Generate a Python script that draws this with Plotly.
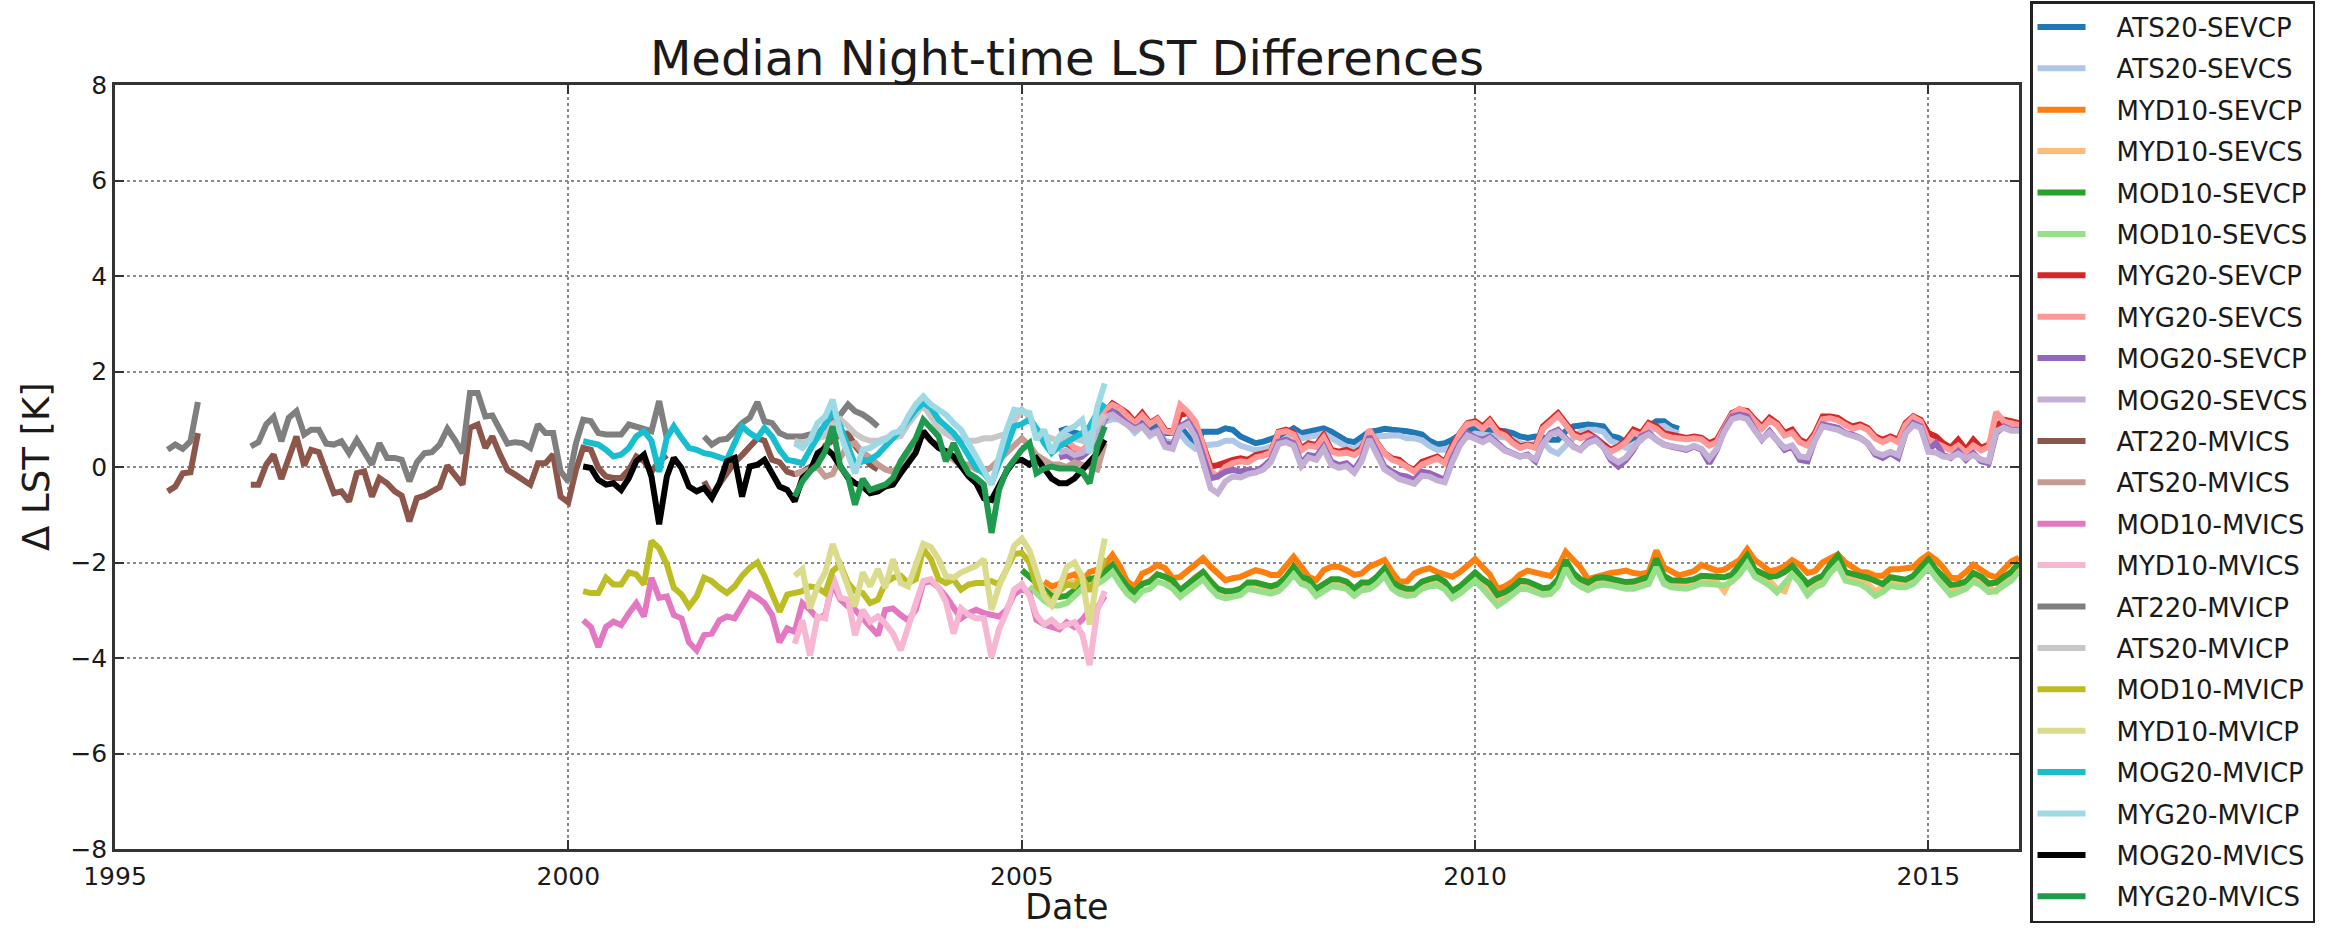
import pandas as pd
import plotly.graph_objects as go

# ---------------------------------------------------------------
# Monthly median night-time LST differences (K), one list per pair.
# Each list starts at the month given in its *_start companion;
# None marks months without data.
# ---------------------------------------------------------------

ats20_sevcp_start = "2005-06"
ats20_sevcp = [
    0.75, 0.80, 0.72, 0.68, 0.60, 0.85, 1.10,
    1.16, 1.13, 1.02, 0.85, 0.99, 0.78, 0.88, 0.71, 0.71, 0.85, 0.64, 0.50,
    0.74, 0.74, 0.74, 0.81, 0.78, 0.64, 0.57, 0.50, 0.53, 0.57, 0.64, 0.71,
    0.81, 0.71, 0.74, 0.78, 0.81, 0.74, 0.64, 0.55, 0.52, 0.62, 0.74, 0.76,
    0.80, 0.78, 0.78, 0.75, 0.72, 0.68, 0.55, 0.47, 0.50, 0.57, 0.68, 0.74,
    0.82, 0.78, 0.78, 0.78, 0.75, 0.71, 0.64, 0.61, 0.64, 0.62, 0.57, 0.57,
    0.75, 0.85, 0.87, 0.89, 0.87, 0.85, 0.65, 0.61, 0.52, 0.60, 0.70, 0.85,
    0.96, 0.96, 0.85, 0.80,
]

ats20_sevcs_start = "2005-06"
ats20_sevcs = [
    0.60, 0.65, 0.60, 0.55, 0.50, 0.70, 0.95,
    1.00, 1.00, 0.90, 0.72, 0.85, 0.65, 0.75, 0.55, 0.50, 0.70, 0.50, 0.38,
    0.45, 0.45, 0.48, 0.55, 0.55, 0.45, 0.40, 0.35, 0.38, 0.42, 0.50, 0.60,
    0.70, 0.60, 0.62, 0.66, 0.70, 0.60, 0.50, 0.42, 0.38, 0.48, 0.60, 0.64,
    0.66, 0.66, 0.66, 0.60, 0.60, 0.56, 0.44, 0.36, 0.36, 0.44, 0.58, 0.62,
    0.70, 0.68, 0.66, 0.66, 0.62, 0.58, 0.50, 0.46, 0.50, 0.52, 0.35, 0.28,
    0.45, 0.62, 0.74, 0.78, 0.78, 0.74, 0.55, 0.48, 0.40, 0.45, 0.56, 0.72,
    0.84, 0.86, 0.76, 0.70,
]

myd10_sevcp_start = "2005-04"
myd10_sevcp = [
    -2.40, -2.50, -2.45, -2.30, -2.25, -2.40, -2.20, -2.15, -2.05,
    -1.84, -2.09, -2.40, -2.51, -2.23, -2.16, -2.05, -2.12, -2.33, -2.30, -2.16, -2.02,
    -1.91, -2.09, -2.23, -2.37, -2.33, -2.30, -2.23, -2.16, -2.20, -2.26, -2.26, -2.09,
    -1.88, -2.09, -2.30, -2.37, -2.16, -2.09, -2.09, -2.16, -2.26, -2.23, -2.09, -2.02,
    -1.95, -2.20, -2.40, -2.40, -2.23, -2.16, -2.12, -2.20, -2.26, -2.30, -2.20, -2.05,
    -1.93, -2.10, -2.25, -2.55, -2.50, -2.40, -2.25, -2.17, -2.22, -2.25, -2.28, -2.10,
    -1.78, -1.95, -2.10, -2.35, -2.30, -2.24, -2.22, -2.20, -2.17, -2.22, -2.24, -2.21,
    -1.75, -2.10, -2.20, -2.27, -2.23, -2.18, -2.05, -2.10, -2.17, -2.15, -2.05, -1.95,
    -1.72, -1.95, -2.05, -2.18, -2.15, -2.08, -1.95, -2.05, -2.22, -2.18, -2.00, -1.90,
    -1.83, -2.00, -2.10, -2.20, -2.21, -2.28, -2.28, -2.14, -2.14, -2.12, -2.10, -1.95,
    -1.83, -1.95, -2.10, -2.32, -2.33, -2.20, -2.05, -2.15, -2.26, -2.31, -2.15, -1.98,
    -1.90,
]

myd10_sevcs_start = "2005-04"
myd10_sevcs = [
    -2.55, -2.65, -2.60, -2.45, -2.40, -2.50, -2.35, -2.30, -2.20,
    -2.05, -2.30, -2.55, -2.68, -2.45, -2.38, -2.25, -2.30, -2.45, -2.60, -2.45, -2.30,
    -2.20, -2.40, -2.55, -2.62, -2.60, -2.55, -2.45, -2.45, -2.50, -2.55, -2.50, -2.35,
    -2.12, -2.32, -2.42, -2.60, -2.48, -2.40, -2.42, -2.45, -2.60, -2.48, -2.45, -2.35,
    -2.15, -2.42, -2.55, -2.60, -2.58, -2.45, -2.40, -2.38, -2.45, -2.65, -2.55, -2.40,
    -2.25, -2.40, -2.55, -2.75, -2.68, -2.58, -2.45, -2.45, -2.52, -2.58, -2.56, -2.40,
    -2.00, -2.28, -2.40, -2.48, -2.40, -2.36, -2.40, -2.42, -2.45, -2.45, -2.42, -2.36,
    -1.98, -2.35, -2.42, -2.45, -2.45, -2.40, -2.35, -2.36, -2.40, -2.60, -2.32, -2.15,
    -1.92, -2.22, -2.30, -2.38, -2.55, -2.60, -2.20, -2.32, -2.55, -2.42, -2.35, -2.12,
    -1.95, -2.28, -2.32, -2.36, -2.45, -2.60, -2.52, -2.38, -2.42, -2.44, -2.36, -2.18,
    -2.00, -2.22, -2.38, -2.58, -2.55, -2.50, -2.30, -2.38, -2.52, -2.60, -2.38, -2.28,
    -2.08,
]

mod10_sevcp_start = "2005-01"
mod10_sevcp = [
    -2.16, -2.30, -2.45, -2.60, -2.70, -2.72, -2.70, -2.58, -2.40, -2.35, -2.32, -2.20,
    -2.05, -2.30, -2.50, -2.62, -2.45, -2.40, -2.25, -2.30, -2.38, -2.58, -2.45, -2.30,
    -2.20, -2.40, -2.55, -2.60, -2.60, -2.55, -2.42, -2.42, -2.45, -2.50, -2.45, -2.30,
    -2.09, -2.30, -2.35, -2.55, -2.45, -2.35, -2.35, -2.40, -2.55, -2.42, -2.42, -2.30,
    -2.12, -2.40, -2.50, -2.55, -2.55, -2.40, -2.35, -2.31, -2.40, -2.60, -2.50, -2.35,
    -2.21, -2.35, -2.45, -2.68, -2.62, -2.52, -2.38, -2.40, -2.47, -2.54, -2.52, -2.35,
    -1.95, -2.22, -2.35, -2.42, -2.33, -2.31, -2.34, -2.37, -2.41, -2.40, -2.36, -2.30,
    -1.92, -2.28, -2.37, -2.38, -2.38, -2.35, -2.28, -2.29, -2.31, -2.31, -2.25, -2.07,
    -1.85, -2.15, -2.22, -2.30, -2.28, -2.20, -2.07, -2.25, -2.45, -2.35, -2.28, -2.05,
    -1.86, -2.20, -2.25, -2.28, -2.32, -2.38, -2.45, -2.31, -2.35, -2.36, -2.28, -2.10,
    -1.93, -2.15, -2.30, -2.47, -2.45, -2.40, -2.22, -2.30, -2.44, -2.42, -2.30, -2.20,
    -2.00,
]

mod10_sevcs_start = "2005-02"
mod10_sevcs = [
    -2.50, -2.65, -2.80, -2.90, -2.90, -2.85, -2.72, -2.55, -2.50, -2.45, -2.35,
    -2.20, -2.45, -2.65, -2.78, -2.60, -2.55, -2.40, -2.45, -2.55, -2.72, -2.60, -2.45,
    -2.35, -2.55, -2.70, -2.75, -2.72, -2.68, -2.55, -2.58, -2.60, -2.65, -2.60, -2.45,
    -2.25, -2.45, -2.50, -2.70, -2.60, -2.50, -2.52, -2.55, -2.70, -2.58, -2.56, -2.45,
    -2.28, -2.55, -2.65, -2.70, -2.68, -2.55, -2.50, -2.48, -2.56, -2.75, -2.65, -2.50,
    -2.38, -2.55, -2.70, -2.90, -2.80, -2.68, -2.55, -2.56, -2.62, -2.68, -2.66, -2.50,
    -2.12, -2.40, -2.50, -2.58, -2.50, -2.46, -2.48, -2.52, -2.55, -2.55, -2.50, -2.45,
    -2.10, -2.45, -2.52, -2.55, -2.55, -2.50, -2.44, -2.45, -2.48, -2.48, -2.40, -2.25,
    -2.02, -2.30, -2.38, -2.48, -2.62, -2.45, -2.25, -2.42, -2.68, -2.52, -2.45, -2.22,
    -2.05, -2.38, -2.42, -2.45, -2.55, -2.70, -2.62, -2.48, -2.52, -2.52, -2.45, -2.28,
    -2.10, -2.32, -2.48, -2.68, -2.62, -2.55, -2.40, -2.48, -2.62, -2.60, -2.48, -2.38,
    -2.18,
]

myg20_sevcp_start = "2005-06"
myg20_sevcp = [
    0.45, 0.50, 0.35, 0.30, 0.45, 0.75, 1.15,
    1.33, 1.23, 1.13, 0.95, 1.13, 0.92, 1.02, 0.78, 0.74, 1.09, 1.13, 0.92,
    0.50, 0.01, 0.04, 0.11, 0.15, 0.18, 0.15, 0.25, 0.29, 0.32, 0.74, 0.78,
    0.71, 0.39, 0.50, 0.46, 0.67, 0.36, 0.32, 0.36, 0.29, 0.39, 0.74, 0.50,
    0.29, 0.18, 0.15, 0.01, -0.06, 0.11, 0.15, 0.22, 0.10, 0.45, 0.71, 0.92,
    0.96, 0.85, 0.99, 0.78, 0.71, 0.54, 0.43, 0.47, 0.43, 0.85, 0.99, 1.13,
    0.92, 0.71, 0.64, 0.71, 0.61, 0.47, 0.36, 0.43, 0.57, 0.78, 0.71, 0.92,
    0.85, 0.71, 0.68, 0.64, 0.61, 0.64, 0.61, 0.50, 0.57, 0.85, 1.13, 1.20,
    1.17, 0.99, 0.85, 1.03, 0.92, 0.71, 0.78, 0.57, 0.50, 0.71, 1.06, 1.06,
    1.03, 0.92, 0.85, 0.89, 0.82, 0.64, 0.57, 0.64, 0.57, 0.92, 1.06, 0.99,
    0.71, 0.64, 0.50, 0.40, 0.57, 0.36, 0.57, 0.40, 0.47, 0.85, 0.99, 0.96,
    0.92,
]

myg20_sevcs_start = "2005-06"
myg20_sevcs = [
    0.50, 0.55, 0.40, 0.35, 0.50, 0.80, 1.20,
    1.30, 1.22, 1.08, 0.92, 1.08, 0.90, 1.00, 0.75, 0.72, 1.30, 1.15, 0.95,
    0.45, -0.10, -0.20, 0.00, 0.08, 0.12, 0.10, 0.20, 0.24, 0.30, 0.72, 0.75,
    0.68, 0.35, 0.45, 0.42, 0.62, 0.32, 0.28, 0.30, 0.25, 0.35, 0.78, 0.50,
    0.28, 0.15, 0.10, -0.02, -0.10, 0.05, 0.10, 0.18, 0.08, 0.42, 0.70, 0.90,
    0.92, 0.80, 0.95, 0.72, 0.66, 0.50, 0.40, 0.45, 0.40, 0.80, 0.95, 1.08,
    0.88, 0.66, 0.60, 0.66, 0.58, 0.42, 0.32, 0.40, 0.52, 0.72, 0.66, 0.88,
    0.80, 0.66, 0.62, 0.60, 0.58, 0.60, 0.58, 0.45, 0.52, 0.82, 1.10, 1.22,
    1.14, 0.95, 0.80, 0.98, 0.88, 0.66, 0.72, 0.52, 0.45, 0.66, 1.00, 1.02,
    0.98, 0.88, 0.80, 0.85, 0.78, 0.60, 0.52, 0.60, 0.52, 0.88, 1.04, 0.95,
    0.55, 0.50, 0.42, 0.35, 0.45, 0.30, 0.45, 0.35, 0.42, 1.15, 0.95, 0.90,
    0.88,
]

mog20_sevcp_start = "2005-06"
mog20_sevcp = [
    0.20, 0.25, 0.15, 0.22, 0.35, 0.65, 1.00,
    1.16, 1.02, 0.92, 0.81, 0.88, 0.71, 0.78, 0.50, 0.46, 0.85, 0.95, 0.71,
    0.22, -0.24, -0.20, -0.10, -0.06, -0.10, -0.06, -0.10, 0.01, 0.15, 0.53, 0.57,
    0.50, 0.08, 0.25, 0.22, 0.43, 0.11, 0.04, 0.08, -0.06, 0.18, 0.64, 0.36,
    0.01, -0.10, -0.17, -0.20, -0.27, -0.10, -0.13, -0.20, -0.27, 0.18, 0.50, 0.71,
    0.61, 0.57, 0.64, 0.50, 0.36, 0.29, 0.22, 0.26, 0.12, 0.50, 0.71, 0.78,
    0.61, 0.43, 0.36, 0.54, 0.61, 0.43, 0.15, 0.01, 0.15, 0.36, 0.64, 0.71,
    0.57, 0.47, 0.43, 0.40, 0.36, 0.43, 0.36, 0.08, 0.36, 0.78, 1.06, 1.10,
    1.06, 0.78, 0.57, 0.75, 0.57, 0.36, 0.43, 0.15, 0.12, 0.57, 0.89, 0.85,
    0.82, 0.71, 0.68, 0.61, 0.50, 0.26, 0.19, 0.29, 0.19, 0.71, 0.92, 0.85,
    0.36, 0.50, 0.26, 0.19, 0.33, 0.15, 0.29, 0.12, 0.08, 0.71, 0.85, 0.78,
    0.78,
]

mog20_sevcs_start = "2005-06"
mog20_sevcs = [
    0.30, 0.35, 0.25, 0.30, 0.42, 0.70, 1.05,
    1.10, 0.98, 0.88, 0.78, 0.85, 0.68, 0.75, 0.42, 0.38, 0.82, 0.90, 0.62,
    0.10, -0.45, -0.55, -0.30, -0.20, -0.22, -0.15, -0.12, -0.05, 0.10, 0.48, 0.52,
    0.45, 0.02, 0.20, 0.15, 0.38, 0.05, -0.02, 0.02, -0.12, 0.12, 0.58, 0.30,
    -0.05, -0.15, -0.25, -0.30, -0.35, -0.18, -0.20, -0.28, -0.32, 0.10, 0.45, 0.66,
    0.58, 0.52, 0.60, 0.46, 0.34, 0.28, 0.22, 0.24, 0.16, 0.48, 0.68, 0.74,
    0.58, 0.42, 0.36, 0.50, 0.56, 0.42, 0.20, 0.10, 0.20, 0.38, 0.60, 0.68,
    0.56, 0.46, 0.44, 0.40, 0.38, 0.44, 0.38, 0.18, 0.38, 0.74, 1.00, 1.05,
    1.00, 0.76, 0.58, 0.72, 0.58, 0.40, 0.45, 0.22, 0.20, 0.56, 0.85, 0.82,
    0.78, 0.70, 0.66, 0.60, 0.50, 0.30, 0.25, 0.32, 0.25, 0.70, 0.88, 0.82,
    0.32, 0.30, 0.22, 0.20, 0.28, 0.18, 0.25, 0.16, 0.12, 0.75, 0.82, 0.76,
    0.76,
]

at220_mvics_start = "1995-08"
at220_mvics = [
    -0.51, -0.41, -0.13, -0.11, 0.71,
    None, None, None, None, None, None, -0.37, -0.37, 0.05, 0.26, -0.25, 0.22,
    0.64, 0.03, 0.36, 0.31, -0.11, -0.55, -0.51, -0.72, -0.13, -0.09, -0.62, -0.23,
    -0.34, -0.51, -0.60, -1.14, -0.65, -0.60, -0.51, -0.42, 0.03, -0.16, -0.37, 0.82,
    0.89, 0.40, 0.64, 0.26, -0.06, -0.16, -0.27, -0.37, 0.08, 0.08, 0.26, -0.62,
    -0.74, -0.06, 0.40, 0.36, -0.02, -0.20, -0.23, -0.23, -0.06, 0.22, 0.12, -0.10,
    0.12, 0.25, None, None, None, None, -0.30, -0.60, -0.35, -0.10, 0.10, 0.25,
    0.45, 0.60, 0.55, 0.15, 0.10, -0.10, -0.15, -0.10, 0.00, 0.10, 0.45, 0.55,
    0.70, 0.70, 0.45, 0.25, 0.05, -0.05,
]

ats20_mvics_start = "2002-07"
ats20_mvics = [
    -0.15, -0.10, -0.05, 0.00, -0.20, -0.15,
    0.20, 0.45, 0.50, 0.30, 0.20, 0.05, -0.05, -0.10, 0.05, 0.25, 0.45, 0.70,
    0.55, 0.45, 0.30, 0.15, 0.05, 0.05, -0.05, -0.10, 0.00, 0.15, 0.30, 0.45,
    0.60, 0.45, 0.25, 0.15, 0.05, 0.05, 0.00, 0.10, 0.05, 0.00, -0.05, 0.50,
]

mod10_mvics_start = "2000-03"
mod10_mvics = [
    -3.21, -3.35, -3.77, -3.35, -3.24, -3.31, -3.06, -2.85, -3.13, -2.32,
    -2.74, -2.71, -3.10, -3.17, -3.67, -3.84, -3.52, -3.49, -3.21, -3.13, -3.17, -2.92,
    -2.64, -2.74, -2.85, -3.10, -3.67, -3.38, -3.45, -2.85, -2.99, -3.17, -3.10, -2.43,
    -2.78, -2.92, -2.99, -3.17, -3.35, -3.52, -2.99, -2.96, -3.10, -3.21, -2.99, -2.43,
    -2.39, -2.53, -2.71, -2.92, -3.17, -3.06, -2.99, -3.06, -3.10, -3.13, -2.99, -2.67,
    -2.55, -2.65, -3.20, -3.30, -3.35, -3.40, -3.25, -3.35, -3.20, -3.00, -2.95, -2.70,
]

myd10_mvics_start = "2002-07"
myd10_mvics = [
    -3.70, -3.21, -3.95, -3.13, -3.17, -2.28,
    -2.74, -2.78, -3.52, -2.99, -3.24, -3.13, -3.28, -3.49, -3.84, -3.31, -2.85, -2.39,
    -2.35, -2.53, -2.82, -3.49, -2.96, -3.10, -3.17, -3.17, -3.99, -3.40, -3.03, -2.57,
    -2.45, -2.70, -3.10, -3.30, -3.20, -3.35, -3.30, -3.25, -3.50, -4.15, -3.00, -2.60,
]

at220_mvicp_start = "1995-08"
at220_mvicp = [
    0.36, 0.47, 0.38, 0.54, 1.36,
    None, None, None, None, None, None, 0.43, 0.52, 0.89, 1.05, 0.54, 1.03,
    1.17, 0.68, 0.78, 0.78, 0.49, 0.47, 0.54, 0.29, 0.57, 0.33, 0.05, 0.50,
    0.19, 0.19, 0.15, -0.30, 0.10, 0.29, 0.31, 0.47, 0.80, 0.57, 0.29, 1.55,
    1.55, 1.06, 1.08, 0.78, 0.49, 0.52, 0.50, 0.40, 0.89, 0.71, 0.71, -0.09,
    -0.30, 0.50, 0.99, 0.96, 0.71, 0.68, 0.68, 0.68, 0.89, 0.85, 0.78, 0.75,
    1.38, 0.60, None, None, None, None, 0.64, 0.47, 0.57, 0.59, 0.75, 0.92,
    1.03, 1.36, 0.96, 0.92, 0.71, 0.64, 0.64, 0.64, 0.68, 0.71, 0.85, 1.06,
    1.10, 1.31, 1.17, 1.10, 0.99, 0.85,
]

ats20_mvicp_start = "2002-07"
ats20_mvicp = [
    0.55, 0.50, 0.55, 0.60, 0.65, 0.90,
    1.00, 0.85, 0.70, 0.60, 0.55, 0.55, 0.60, 0.60, 0.65, 0.90, 1.10, 1.30,
    1.05, 0.80, 0.70, 0.60, 0.60, 0.55, 0.55, 0.60, 0.60, 0.65, 0.70, 0.95,
    1.20, 1.05, 0.80, 0.65, 0.60, 0.55, 0.60, 0.60, 0.65, 0.70, 0.90, 1.10,
]

mod10_mvicp_start = "2000-03"
mod10_mvicp = [
    -2.60, -2.64, -2.64, -2.32, -2.46, -2.46, -2.21, -2.25, -2.46, -1.55,
    -1.70, -2.04, -2.53, -2.67, -2.92, -2.71, -2.32, -2.39, -2.53, -2.64, -2.50, -2.28,
    -2.11, -2.00, -2.28, -2.64, -3.03, -2.67, -2.64, -2.60, -2.50, -2.53, -2.64, -2.18,
    -2.04, -2.43, -2.60, -2.64, -2.85, -2.78, -2.43, -2.32, -2.28, -2.43, -2.35, -1.72,
    -1.93, -2.35, -2.43, -2.35, -2.57, -2.46, -2.43, -2.43, -2.39, -2.46, -2.14, -1.82,
    -1.80, -2.00, -2.50, -2.65, -2.85, -2.60, -2.45, -2.50, -2.30, -2.60, -2.30, -1.90,
]

myd10_mvicp_start = "2002-07"
myd10_mvicp = [
    -2.28, -2.14, -2.96, -2.50, -2.21, -1.61,
    -2.07, -2.57, -2.92, -2.21, -2.50, -2.14, -2.53, -1.93, -2.43, -2.50, -2.00, -1.61,
    -1.68, -1.93, -2.28, -2.32, -2.21, -2.14, -2.07, -1.93, -2.99, -2.50, -2.14, -1.65,
    -1.50, -1.75, -2.20, -2.70, -2.90, -2.55, -2.10, -2.00, -2.30, -3.30, -2.30, -1.50,
]

mog20_mvicp_start = "2000-03"
mog20_mvicp = [
    0.54, 0.50, 0.47, 0.36, 0.22, 0.26, 0.40, 0.64, 0.75, 0.55,
    -0.10, 0.61, 0.85, 0.61, 0.40, 0.36, 0.29, 0.26, 0.19, 0.15, 0.50, 0.85,
    0.71, 0.61, 0.82, 0.64, 0.36, 0.15, 0.12, 0.08, 0.36, 0.64, 0.92, 1.17,
    0.85, 0.40, 0.05, 0.12, 0.15, 0.26, 0.43, 0.57, 0.78, 0.99, 1.20, 1.34,
    1.24, 0.99, 0.85, 0.71, 0.50, 0.22, -0.02, -0.13, -0.34, 0.08, 0.43, 0.85,
    0.90, 1.00, 0.81, 0.50, 0.29, 0.43, 0.53, 0.60, 0.71, 0.85, 1.13, 1.33,
]

myg20_mvicp_start = "2002-07"
myg20_mvicp = [
    0.50, 0.40, 0.57, 0.92, 1.06, 1.41,
    0.70, 0.30, -0.13, 0.36, 0.40, 0.50, 0.57, 0.71, 0.75, 1.06, 1.31, 1.48,
    1.31, 1.20, 1.10, 0.92, 0.78, 0.50, 0.22, -0.09, -0.37, 0.22, 0.78, 1.20,
    1.15, 1.13, 0.57, 0.78, 0.29, 0.64, 0.78, 0.85, 0.99, 0.29, 1.26, 1.75,
]

mog20_mvics_start = "2000-03"
mog20_mvics = [
    0.01, -0.02, -0.27, -0.37, -0.34, -0.48, -0.23, 0.12, 0.26, -0.20,
    -1.20, -0.20, 0.19, -0.02, -0.41, -0.51, -0.44, -0.65, -0.34, 0.12, 0.19, -0.62,
    0.01, 0.05, 0.15, -0.16, -0.41, -0.48, -0.72, -0.23, -0.09, 0.29, 0.40, 0.26,
    0.01, -0.23, -0.34, -0.41, -0.55, -0.51, -0.41, -0.37, -0.13, 0.08, 0.30, 0.75,
    0.55, 0.40, 0.33, 0.22, 0.01, -0.20, -0.34, -0.65, -0.69, -0.37, -0.09, 0.12,
    0.15, 0.05, 0.18, -0.03, -0.24, -0.34, -0.34, -0.24, -0.06, 0.11, 0.29, 0.57,
]

myg20_mvics_start = "2002-07"
myg20_mvics = [
    -0.62, -0.30, -0.09, 0.05, 0.33, 0.85,
    0.00, -0.20, -0.79, -0.25, -0.48, -0.41, -0.37, -0.23, 0.12, 0.36, 0.60, 0.99,
    0.80, 0.64, 0.12, 0.50, 0.15, -0.13, -0.23, -0.37, -1.38, -0.48, -0.06, 0.15,
    0.36, 0.50, -0.13, -0.03, 0.01, -0.03, -0.03, -0.03, -0.10, -0.34, 0.43, 0.85,
]

# legend label, start month, values, colour (drawn in this order)
series = [
    ("ATS20-SEVCP", ats20_sevcp_start, ats20_sevcp, "#1f77b4"),
    ("ATS20-SEVCS", ats20_sevcs_start, ats20_sevcs, "#aec7e8"),
    ("MYD10-SEVCP", myd10_sevcp_start, myd10_sevcp, "#ff7f0e"),
    ("MYD10-SEVCS", myd10_sevcs_start, myd10_sevcs, "#ffbb78"),
    ("MOD10-SEVCP", mod10_sevcp_start, mod10_sevcp, "#2ca02c"),
    ("MOD10-SEVCS", mod10_sevcs_start, mod10_sevcs, "#98df8a"),
    ("MYG20-SEVCP", myg20_sevcp_start, myg20_sevcp, "#d62728"),
    ("MYG20-SEVCS", myg20_sevcs_start, myg20_sevcs, "#ff9896"),
    ("MOG20-SEVCP", mog20_sevcp_start, mog20_sevcp, "#9467bd"),
    ("MOG20-SEVCS", mog20_sevcs_start, mog20_sevcs, "#c5b0d5"),
    ("AT220-MVICS", at220_mvics_start, at220_mvics, "#8c564b"),
    ("ATS20-MVICS", ats20_mvics_start, ats20_mvics, "#c49c94"),
    ("MOD10-MVICS", mod10_mvics_start, mod10_mvics, "#e377c2"),
    ("MYD10-MVICS", myd10_mvics_start, myd10_mvics, "#f7b6d2"),
    ("AT220-MVICP", at220_mvicp_start, at220_mvicp, "#7f7f7f"),
    ("ATS20-MVICP", ats20_mvicp_start, ats20_mvicp, "#c7c7c7"),
    ("MOD10-MVICP", mod10_mvicp_start, mod10_mvicp, "#bcbd22"),
    ("MYD10-MVICP", myd10_mvicp_start, myd10_mvicp, "#dbdb8d"),
    ("MOG20-MVICP", mog20_mvicp_start, mog20_mvicp, "#17becf"),
    ("MYG20-MVICP", myg20_mvicp_start, myg20_mvicp, "#9edae5"),
    ("MOG20-MVICS", mog20_mvics_start, mog20_mvics, "#000000"),
    ("MYG20-MVICS", myg20_mvics_start, myg20_mvics, "#1f9a4e"),
]

year_ticks = [1995, 2000, 2005, 2010, 2015]
y_ticks = [-8, -6, -4, -2, 0, 2, 4, 6, 8]

FONT = "DejaVu Sans"
INK = "#1a1a1a"

fig = go.Figure()
for label, start, values, colour in series:
    dates = pd.date_range(start=start + "-01", periods=len(values), freq="MS")
    fig.add_trace(go.Scatter(
        x=dates, y=values, mode="lines",
        name="\u2003" + label, legendgroup=label,
        line=dict(color=colour, width=6), connectgaps=False,
    ))

axis_style = dict(
    showgrid=True, gridcolor="#8a8a8a", gridwidth=1.6, griddash="dot",
    ticks="inside", ticklen=9, tickwidth=2, tickcolor="#333333",
    showline=True, linecolor="#333333", linewidth=2.5, mirror="allticks",
    zeroline=False, tickfont=dict(family=FONT, size=25, color=INK),
)

fig.update_layout(
    width=2331, height=930, autosize=False,
    margin=dict(l=115, r=312, t=85, b=81, autoexpand=False),
    paper_bgcolor="white", plot_bgcolor="white",
    font=dict(family=FONT, color=INK),
    title=dict(text="Median Night-time LST Differences",
               font=dict(family=FONT, size=48, color=INK),
               x=0.5, xref="paper", xanchor="center",
               y=1 - 58 / 930, yref="container", yanchor="middle"),
    xaxis=dict(type="date", range=["1995-01-01", "2016-01-01"],
               tickmode="array",
               tickvals=[f"{y}-01-01" for y in year_ticks],
               ticktext=[str(y) for y in year_ticks],
               ticklabelstandoff=3,
               **axis_style),
    yaxis=dict(range=[-8, 8], tickmode="array", tickvals=y_ticks,
               **axis_style),
    legend=dict(x=(2030 - 115) / 1904, xref="paper",
                y=1 - 1 / 930, yref="container",
                xanchor="left", yanchor="top",
                bgcolor="white", bordercolor="#222222", borderwidth=2.5,
                font=dict(family=FONT, size=26, color=INK),
                tracegroupgap=4.6, itemwidth=48),
    annotations=[
        dict(text="Date", xref="paper", yref="paper", x=0.5,
             y=(849 - 907) / 764, xanchor="center", yanchor="middle",
             showarrow=False, font=dict(family=FONT, size=35, color=INK)),
        dict(text="\u0394 LST [K]", xref="paper", yref="paper",
             x=(36 - 115) / 1904, y=0.5, xanchor="center", yanchor="middle",
             textangle=-90, showarrow=False,
             font=dict(family=FONT, size=37, color=INK)),
    ],
)

# let the legend use the full page height instead of scrolling
try:
    fig.update_layout(legend_maxheight=1.0)
except ValueError:
    pass

fig.write_html("out.html")
